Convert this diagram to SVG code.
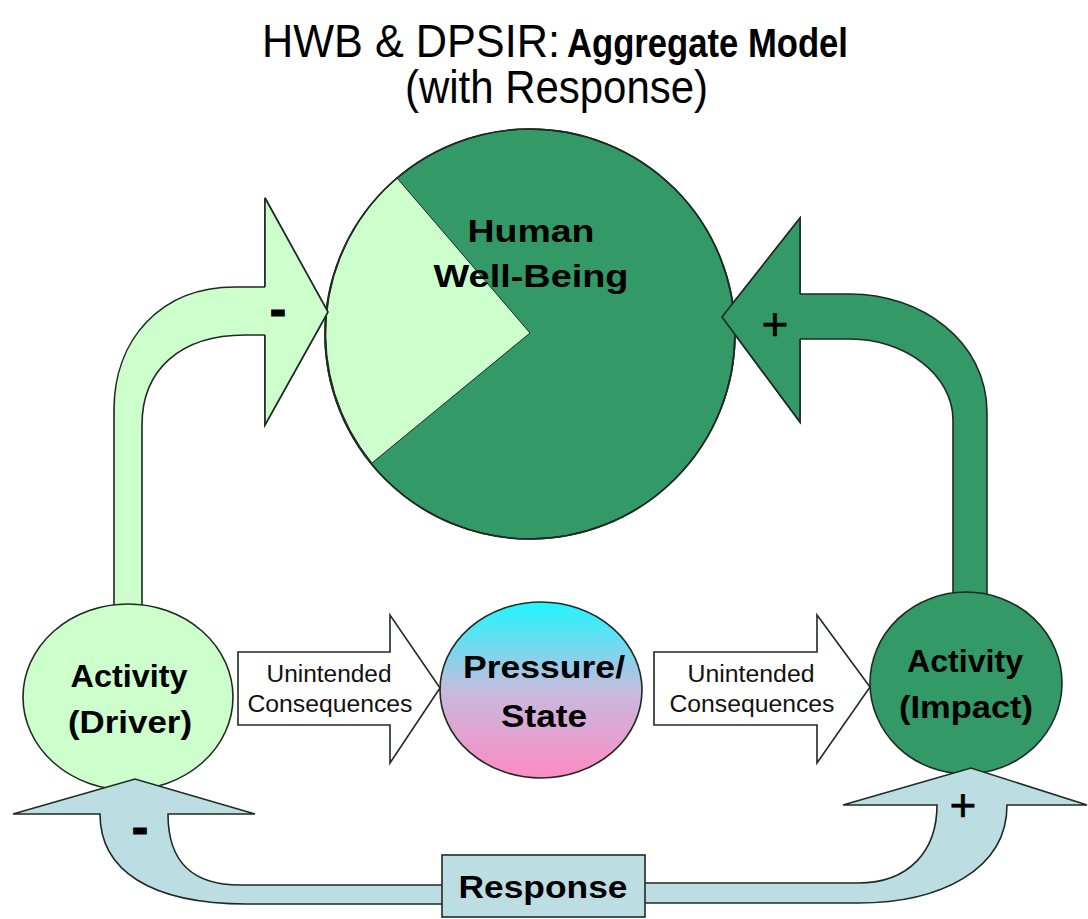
<svg xmlns="http://www.w3.org/2000/svg" width="1088" height="919" viewBox="0 0 1088 919">
<style>
  .ln{stroke:#1e2a22;stroke-width:1.6;stroke-linejoin:miter}
  .lg{fill:#ccffcc}
  .dg{fill:#339966}
  .rb{fill:#bcdee2}
  .wh{fill:#ffffff}
  .t{font-family:"Liberation Sans",Arial,sans-serif;fill:#000}
  .b{font-weight:bold}
  .lab{font-family:"Liberation Sans",Arial,sans-serif;font-weight:bold;font-size:32px;fill:#000;text-anchor:middle}
  .uc{font-family:"Liberation Sans",Arial,sans-serif;font-size:23px;fill:#111;text-anchor:middle}
  .sg{font-family:"DejaVu Sans",sans-serif;font-weight:bold;font-size:42px;fill:#000;text-anchor:middle;stroke:#000;stroke-width:0.8}
  .pl{font-family:"Liberation Sans",Arial,sans-serif;font-size:46px;fill:#000;text-anchor:middle;stroke:#000;stroke-width:0.6}
</style>
<defs>
  <linearGradient id="ps" x1="0" y1="0" x2="0" y2="1">
    <stop offset="0" stop-color="#1ff6ff"/>
    <stop offset="0.5" stop-color="#c4bcde"/>
    <stop offset="1" stop-color="#ff8ac4"/>
  </linearGradient>
</defs>
<rect width="1088" height="919" fill="#ffffff"/>

<g id="title">
  <text class="t" y="57" font-size="46"><tspan x="262" textLength="298" lengthAdjust="spacingAndGlyphs">HWB &amp; DPSIR:</tspan><tspan x="567" class="b" font-size="40" textLength="281" lengthAdjust="spacingAndGlyphs">Aggregate Model</tspan></text>
  <text class="t" x="405" y="103" font-size="46" textLength="303" lengthAdjust="spacingAndGlyphs">(with Response)</text>
</g>

<g id="connectors">
  <path class="lg ln" d="M114 612 L114 410 C114 340 160 287 235 287 L265 287 L265 198 L328 312 L265 425 L265 335 L245 335 C180 335 142 370 142 425 L142 612 Z"/>
  <path class="dg ln" d="M987 600 L987 413 C987 340 920 294 850 294 L800 294 L800 218 L722 317 L800 422 L800 339 L850 339 C905 339 953 375 953 420 L953 600 Z"/>
</g>

<g id="hwb">
  <circle class="dg ln" cx="530" cy="334" r="205"/>
  <path class="lg" d="M530 333 L397 178 A205 205 0 0 0 372 463 Z" stroke="#1e2a22" stroke-width="1"/>
  <circle cx="530" cy="334" r="205" fill="none" class="ln"/>
  <text class="lab" x="531" y="242" font-size="38" textLength="127" lengthAdjust="spacingAndGlyphs">Human</text>
  <text class="lab" x="531" y="287" font-size="37" textLength="195" lengthAdjust="spacingAndGlyphs">Well-Being</text>
</g>

<g id="connector-heads">
  <path class="dg ln" d="M800 294 L800 218 L722 317 L800 422 L800 339"/>
  <path class="lg ln" d="M265 287 L265 198 L328 312 L265 425 L265 335"/>
  <text class="sg" x="278" y="325">-</text>
  <text class="pl" x="775" y="340">+</text>
</g>

<g id="driver">
  <ellipse class="lg ln" cx="128" cy="697" rx="105" ry="93"/>
  <text class="lab" x="129" y="687" font-size="33" textLength="117" lengthAdjust="spacingAndGlyphs">Activity</text>
  <text class="lab" x="130" y="733" font-size="33" textLength="124" lengthAdjust="spacingAndGlyphs">(Driver)</text>
</g>

<g id="pressure">
  <ellipse cx="541" cy="690" rx="101" ry="88" fill="url(#ps)" class="ln"/>
  <text class="lab" x="544" y="678" font-size="34" textLength="162" lengthAdjust="spacingAndGlyphs">Pressure/</text>
  <text class="lab" x="544" y="727" font-size="34" textLength="86" lengthAdjust="spacingAndGlyphs">State</text>
</g>

<g id="impact">
  <ellipse class="dg ln" cx="966" cy="683" rx="96" ry="91"/>
  <text class="lab" x="965" y="672" font-size="33" textLength="116" lengthAdjust="spacingAndGlyphs">Activity</text>
  <text class="lab" x="966" y="718" font-size="33" textLength="134" lengthAdjust="spacingAndGlyphs">(Impact)</text>
</g>

<g id="unintended-1">
  <path class="wh ln" stroke-width="1.2" d="M238 652 L390 652 L390 615 L440 688 L390 763 L390 725 L238 725 Z"/>
  <text class="uc" x="329" y="682" textLength="125" lengthAdjust="spacingAndGlyphs">Unintended</text>
  <text class="uc" x="330" y="712" textLength="165" lengthAdjust="spacingAndGlyphs">Consequences</text>
</g>

<g id="unintended-2">
  <path class="wh ln" stroke-width="1.2" d="M654 652 L817 652 L817 615 L870 687 L817 763 L817 725 L654 725 Z"/>
  <text class="uc" x="751" y="682" textLength="127" lengthAdjust="spacingAndGlyphs">Unintended</text>
  <text class="uc" x="752" y="712" textLength="165" lengthAdjust="spacingAndGlyphs">Consequences</text>
</g>

<g id="response-connectors">
  <path class="rb ln" d="M445 885 L240 885 C195 885 168 865 168 814 L255 814 L135 779 L13 814 L100 814 C100 870 150 904 247 904 L445 904 Z"/>
  <path class="rb ln" d="M642 883 L858 883 C910 883 937 850 937 805 L843 805 L971 768 L1087 805 L1007 805 C1007 870 940 903 858 903 L642 903 Z"/>
  <text class="sg" x="140" y="843">-</text>
  <text class="pl" x="963" y="821">+</text>
</g>

<g id="response">
  <rect class="rb ln" x="442" y="855" width="203" height="62"/>
  <text class="lab" x="543" y="898" font-size="35" textLength="169" lengthAdjust="spacingAndGlyphs">Response</text>
</g>
</svg>
